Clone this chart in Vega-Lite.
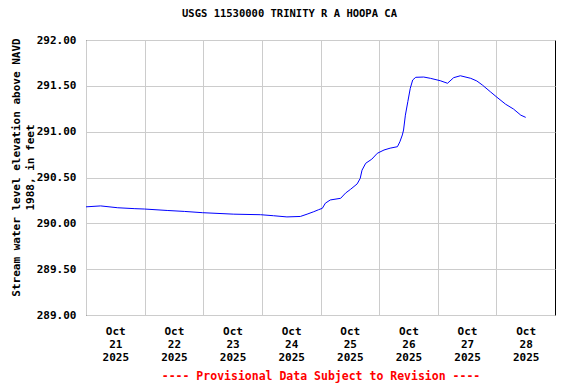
{
  "$schema": "https://vega.github.io/schema/vega-lite/v6.json",
  "width": 469,
  "height": 275,
  "autosize": "none",
  "padding": {"left": 86, "top": 40, "right": 21, "bottom": 69},
  "background": "white",
  "title": {
    "text": "USGS 11530000 TRINITY R A HOOPA CA",
    "font": "DejaVu Sans Mono",
    "fontSize": 10.5,
    "fontWeight": "bold",
    "color": "black",
    "anchor": "middle",
    "dx": -31,
    "offset": 15
  },
  "config": {
    "view": {"stroke": "black", "strokeWidth": 1},
    "axis": {
      "gridColor": "#cccccc",
      "gridWidth": 1,
      "gridOpacity": 1,
      "ticks": false,
      "domain": false,
      "labelFont": "DejaVu Sans Mono",
      "labelFontSize": 11,
      "labelFontWeight": "bold",
      "labelColor": "black",
      "titleFont": "DejaVu Sans Mono",
      "titleFontSize": 11,
      "titleFontWeight": "bold",
      "titleColor": "black"
    }
  },
  "data": {
    "values": [
      {"time": "2025-10-21T00:00:00Z", "level": 290.18},
      {"time": "2025-10-21T06:00:00Z", "level": 290.19},
      {"time": "2025-10-21T13:00:00Z", "level": 290.17},
      {"time": "2025-10-21T20:00:00Z", "level": 290.16},
      {"time": "2025-10-22T00:00:00Z", "level": 290.156},
      {"time": "2025-10-22T09:30:00Z", "level": 290.14},
      {"time": "2025-10-22T16:15:00Z", "level": 290.13},
      {"time": "2025-10-22T23:45:00Z", "level": 290.116},
      {"time": "2025-10-23T12:30:00Z", "level": 290.10},
      {"time": "2025-10-23T23:30:00Z", "level": 290.094},
      {"time": "2025-10-24T04:45:00Z", "level": 290.083},
      {"time": "2025-10-24T10:15:00Z", "level": 290.07},
      {"time": "2025-10-24T15:45:00Z", "level": 290.075},
      {"time": "2025-10-24T18:30:00Z", "level": 290.10},
      {"time": "2025-10-24T21:15:00Z", "level": 290.127},
      {"time": "2025-10-24T23:15:00Z", "level": 290.149},
      {"time": "2025-10-25T00:45:00Z", "level": 290.164},
      {"time": "2025-10-25T02:00:00Z", "level": 290.22},
      {"time": "2025-10-25T04:00:00Z", "level": 290.255},
      {"time": "2025-10-25T08:15:00Z", "level": 290.273},
      {"time": "2025-10-25T10:15:00Z", "level": 290.33},
      {"time": "2025-10-25T12:15:00Z", "level": 290.37},
      {"time": "2025-10-25T15:00:00Z", "level": 290.43},
      {"time": "2025-10-25T16:15:00Z", "level": 290.49},
      {"time": "2025-10-25T17:00:00Z", "level": 290.58},
      {"time": "2025-10-25T18:30:00Z", "level": 290.655},
      {"time": "2025-10-25T21:00:00Z", "level": 290.70},
      {"time": "2025-10-25T23:15:00Z", "level": 290.764},
      {"time": "2025-10-26T02:00:00Z", "level": 290.80},
      {"time": "2025-10-26T04:30:00Z", "level": 290.82},
      {"time": "2025-10-26T07:30:00Z", "level": 290.836},
      {"time": "2025-10-26T08:30:00Z", "level": 290.89},
      {"time": "2025-10-26T09:30:00Z", "level": 290.964},
      {"time": "2025-10-26T10:00:00Z", "level": 291.018},
      {"time": "2025-10-26T10:45:00Z", "level": 291.18},
      {"time": "2025-10-26T11:45:00Z", "level": 291.327},
      {"time": "2025-10-26T12:45:00Z", "level": 291.473},
      {"time": "2025-10-26T13:45:00Z", "level": 291.564},
      {"time": "2025-10-26T15:00:00Z", "level": 291.593},
      {"time": "2025-10-26T18:15:00Z", "level": 291.596},
      {"time": "2025-10-26T21:00:00Z", "level": 291.582},
      {"time": "2025-10-27T01:00:00Z", "level": 291.556},
      {"time": "2025-10-27T04:00:00Z", "level": 291.528},
      {"time": "2025-10-27T06:30:00Z", "level": 291.589},
      {"time": "2025-10-27T09:15:00Z", "level": 291.61},
      {"time": "2025-10-27T13:30:00Z", "level": 291.582},
      {"time": "2025-10-27T16:00:00Z", "level": 291.553},
      {"time": "2025-10-27T18:15:00Z", "level": 291.509},
      {"time": "2025-10-27T21:30:00Z", "level": 291.436},
      {"time": "2025-10-28T00:15:00Z", "level": 291.375},
      {"time": "2025-10-28T03:45:00Z", "level": 291.30},
      {"time": "2025-10-28T07:00:00Z", "level": 291.247},
      {"time": "2025-10-28T10:00:00Z", "level": 291.18},
      {"time": "2025-10-28T12:00:00Z", "level": 291.156}
    ]
  },
  "mark": {"type": "line", "color": "#0000ff", "strokeWidth": 1, "interpolate": "linear"},
  "encoding": {
    "x": {
      "field": "time",
      "type": "temporal",
      "scale": {
        "type": "utc",
        "domain": [
          {"year": 2025, "month": "oct", "date": 21, "utc": true},
          {"year": 2025, "month": "oct", "date": 29, "utc": true}
        ],
        "nice": false
      },
      "axis": {
        "values": [
          {"year": 2025, "month": "oct", "date": 21, "utc": true},
          {"year": 2025, "month": "oct", "date": 22, "utc": true},
          {"year": 2025, "month": "oct", "date": 23, "utc": true},
          {"year": 2025, "month": "oct", "date": 24, "utc": true},
          {"year": 2025, "month": "oct", "date": 25, "utc": true},
          {"year": 2025, "month": "oct", "date": 26, "utc": true},
          {"year": 2025, "month": "oct", "date": 27, "utc": true},
          {"year": 2025, "month": "oct", "date": 28, "utc": true}
        ],
        "grid": true,
        "labelExpr": "[utcFormat(datum.value, '%b'), utcFormat(datum.value, '%d'), utcFormat(datum.value, '%Y')]",
        "labelOffset": 29.3,
        "labelPadding": 10,
        "labelLineHeight": 13,
        "labelBaseline": "top",
        "labelAlign": "center",
        "labelOverlap": false,
        "labelFlush": false,
        "labelBound": false,
        "title": "---- Provisional Data Subject to Revision ----",
        "titleColor": "#ff0000",
        "titleFontSize": 11.5,
        "titlePadding": 8
      }
    },
    "y": {
      "field": "level",
      "type": "quantitative",
      "scale": {"domain": [289, 292], "nice": false, "zero": false},
      "axis": {
        "values": [289, 289.5, 290, 290.5, 291, 291.5, 292],
        "format": ".2f",
        "grid": true,
        "labelPadding": 10,
        "labelOverlap": false,
        "labelFlush": false,
        "title": ["Stream water level elevation above NAVD", "1988, in feet"],
        "titleLineHeight": 14,
        "titlePadding": 1,
        "titleY": 127
      }
    }
  }
}
